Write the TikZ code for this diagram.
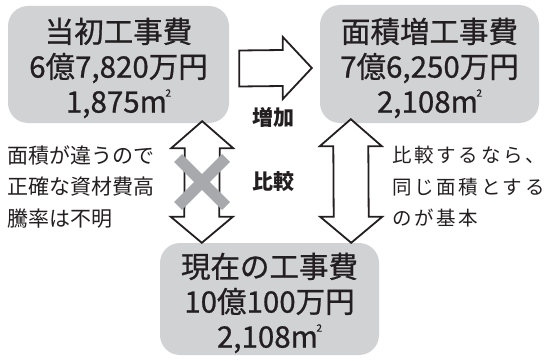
\documentclass[tikz,border=0pt]{standalone}
\usepackage{fontspec}
\setmainfont{Noto Sans CJK JP}
\newfontfamily\jpwide[LetterSpace=14]{Noto Sans CJK JP}
\newfontfamily\jpmid[FakeBold=0.8]{Noto Sans CJK JP}
\usetikzlibrary{calc,positioning}

\definecolor{boxgray}{HTML}{D1D2D4}
\definecolor{xgray}{HTML}{A7A9AC}
\definecolor{ink}{HTML}{231F20}

% square metre with a tiny raised 2
\newcommand{\sqm}{m\kern-1.5pt\raisebox{16pt}{\fontsize{10}{10}\selectfont 2}}
% hollow arrow with a head at each end, from #1 (top) to #2 (bottom)
\newcommand{\updown}[2]{%
        \draw[blk] (#1) -- ($(#1)+(31,27)$) -- ($(#1)+(17.5,27)$) -- ($(#2)+(17.5,-26)$)
                -- ($(#2)+(31,-26)$) -- (#2) -- ($(#2)+(-31,-26)$) -- ($(#2)+(-17.5,-26)$)
                -- ($(#1)+(-17.5,27)$) -- ($(#1)+(-31,27)$) -- cycle;}

\begin{document}
\begin{tikzpicture}[x=1pt, y=-1pt,
        cost/.style={fill=boxgray, rounded corners=20pt, inner sep=0pt},
        costtext/.style={text=ink, align=center, inner sep=0pt, font=\fontsize{29.5}{35}\selectfont\jpmid},
        note/.style={text=ink, align=left, inner sep=0pt, anchor=west, font=\fontsize{21}{31.5}\selectfont},
        tag/.style={text=ink, inner sep=0pt, font=\fontsize{21}{21}\selectfont\bfseries},
        blk/.style={draw=ink, fill=white, line width=1.8pt, line join=miter},
        cross/.style={draw=xgray, line width=11pt}]
        \useasboundingbox (0, 0) rectangle (546, 361);

        % the three cost boxes
        \node[cost, minimum width=221pt, minimum height=117pt] (b1) at (118.5, 64.5) {};
        \node[cost, minimum width=219pt, minimum height=118pt] (b2) at (429.5, 64) {};
        \node[cost, minimum width=219pt, minimum height=112pt] (b3) at (269.5, 299) {};
        \node[costtext] (b1t) at (118.5, 68) {当初工事費\\6億7,820万円\\1,875\sqm};
        \node[costtext] (b2t) at (429.5, 68) {面積増工事費\\7億6,250万円\\2,108\sqm};
        \node[costtext] (b3t) at (269.5, 303) {現在の工事費\\10億100万円\\2,108\sqm};

        % arrow ends
        \coordinate (ht) at ($(b1.east)+(10,4)$);
        \coordinate (hh) at ($(b2.west)+(-8,4)$);
        \coordinate (lt) at ($(b1.south east)+(-27,-2)$);
        \coordinate (lb) at ($(b3.north west)+(42,0)$);
        \coordinate (rt) at ($(b2.south west)+(31,-4)$);
        \coordinate (rb) at ($(b3.north east)+(-28,0)$);

        \draw[blk] ($(ht)+(0,-18)$) -- ($(hh)+(-29,-18)$) -- ($(hh)+(-29,-31)$) -- (hh)
                -- ($(hh)+(-29,31)$) -- ($(hh)+(-29,18)$) -- ($(ht)+(0,18)$) -- cycle;
        \updown{lt}{lb}
        \updown{rt}{rb}

        % the crossed-out comparison
        \coordinate (xc) at ($(lt)!.5!(lb)$);
        \draw[cross] ($(xc)+(-24,-24)$) -- ($(xc)+(24,24)$);
        \draw[cross] ($(xc)+(24,-24)$) -- ($(xc)+(-24,24)$);

        \node[tag] (inc) at (273, 117) {増加};
        \node[tag] (cmp) at (273, 182) {比較};

        \node[note] (lnote) at (7, 187) {面積が違うので\\正確な資材費高\\騰率は不明};
        \node[note, font=\fontsize{19.5}{31.5}\selectfont\jpwide] (rnote) at (392, 187) {比較するなら、\\同じ面積とする\\のが基本};
\end{tikzpicture}
\end{document}
